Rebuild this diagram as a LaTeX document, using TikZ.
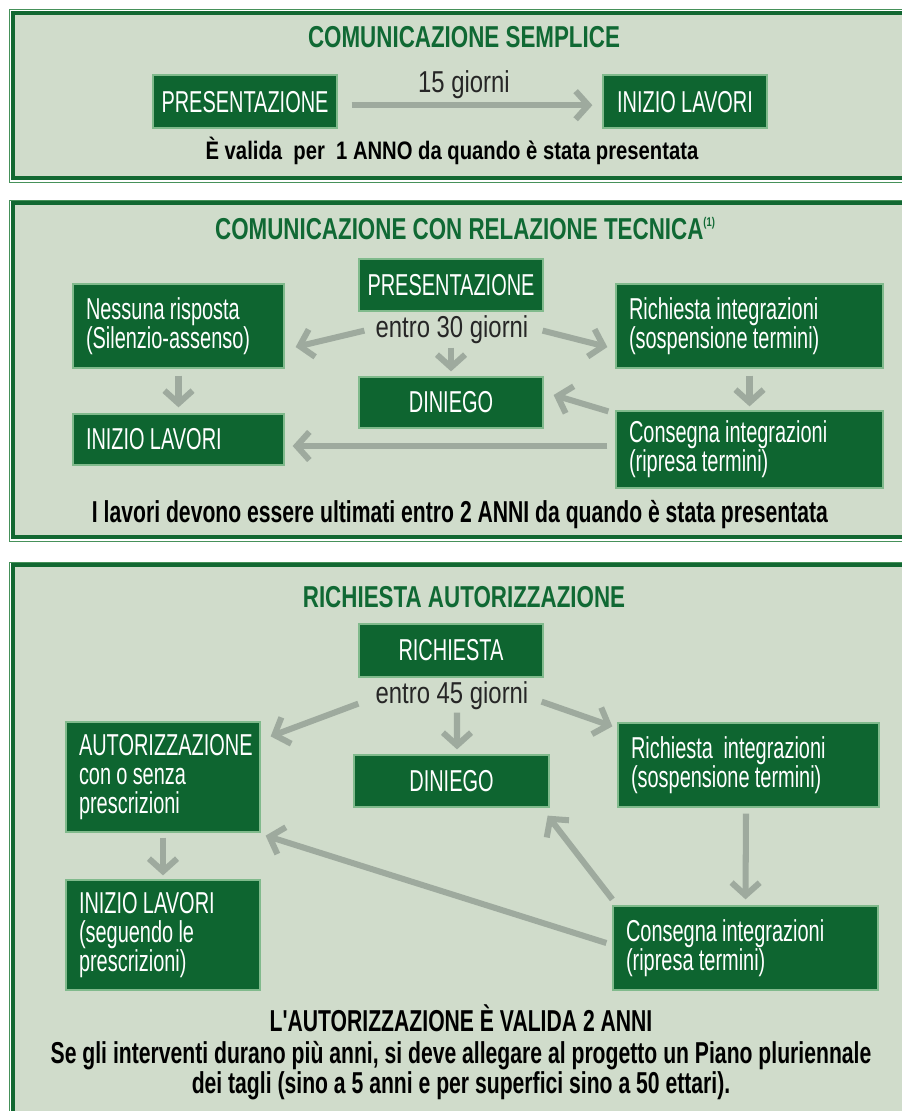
\documentclass[tikz,border=0pt]{standalone}
\usepackage{fontspec}
\setmainfont{Liberation Sans}[FakeStretch=0.66, WordSpace=0.95]
\newfontfamily\headfont{Liberation Sans}[FakeStretch=0.74]
\newfontfamily\notafont{Liberation Sans}[FakeStretch=0.70]
\newfontfamily\validafont{Liberation Sans}[FakeStretch=0.80]
\newfontfamily\tempifont{Liberation Sans}[FakeStretch=0.79]
\usepackage{tikz}
\usetikzlibrary{arrows.meta}
\definecolor{sfondo}{RGB}{208,220,203}
\definecolor{verdebox}{RGB}{14,101,48}
\definecolor{bordobox}{RGB}{128,186,140}
\definecolor{cornice}{RGB}{18,104,50}
\definecolor{cornicefine}{RGB}{70,145,90}
\definecolor{verdetitolo}{RGB}{16,105,52}
\definecolor{grigio}{RGB}{158,170,158}
\newcommand{\boxsize}{\fontsize{21.5}{20.8}\selectfont}
\newcommand{\headsize}{\headfont\bfseries\fontsize{21.5}{22}\selectfont}
\newcommand{\notasize}{\notafont\bfseries\fontsize{21.5}{22}\selectfont}

\begin{document}
\begin{tikzpicture}[
	box/.style={fill=verdebox, draw=bordobox, line width=0.9pt, text=white, font=\boxsize, inner sep=0pt},
	cbox/.style={box, minimum width=#1},
	lbox/.style={box, align=flush left, text width=#1, inner xsep=0.325cm},
	freccia/.style={draw=grigio, line width=4.3pt, -{Straight Barb[length=9pt,width=20pt]}},
	titolo/.style={font=\headsize, text=verdetitolo, inner sep=0pt, anchor=base},
	nota/.style={font=\notasize, text=black, inner sep=0pt, anchor=base},
	tempi/.style={font=\tempifont\fontsize{21.5}{22}\selectfont, text=black!85, inner sep=0pt, anchor=base},
	pannello/.style={fill=sfondo, draw=cornice, line width=2.2pt},
	filo/.style={draw=cornicefine, line width=0.7pt}
	]
		\useasboundingbox (0,0) rectangle (22.55,-27.775);
		\clip (0,0) rectangle (22.55,-27.775);
		
		\draw[pannello] (0.325,-0.325) rectangle (23,-4.45);
		\draw[filo] (0.225,-0.225) rectangle (23.2,-4.55);
		\node[titolo] (tit1) at (11.6,-1.2) {COMUNICAZIONE SEMPLICE};
		\node[cbox=4.6cm, minimum height=1.325cm] (pres1) at (6.125,-2.54) {PRESENTAZIONE};
		\node[cbox=4.1cm, minimum height=1.325cm] (ini1) at (17.125,-2.54) {INIZIO LAVORI};
		\node[tempi] (gg1) at (11.6,-2.325) {15 giorni};
		\node[nota, font=\validafont\bfseries\fontsize{18}{20}\selectfont] (val1) at (11.3,-4.0) {È valida~ per~ 1 ANNO da quando è stata presentata};
		\draw[freccia] ([shift={(0.35,-0.09)}]pres1.east) -- ([shift={(-0.25,-0.09)}]ini1.west);
		
		\draw[pannello] (0.325,-5.075) rectangle (23,-13.425);
		\draw[filo] (0.225,-5.0) rectangle (23.2,-13.525);
		\node[titolo] (tit2) at (11.625,-5.975) {COMUNICAZIONE CON RELAZIONE TECNICA\raisebox{0.8ex}{\fontsize{9}{9}\selectfont(1)}};
		\node[cbox=4.6cm, minimum height=1.3cm] (pres2) at (11.275,-7.125) {PRESENTAZIONE};
		\node[tempi] (entro2) at (11.3,-8.425) {entro 30 giorni};
		\node[lbox=4.625cm, minimum height=2.1cm] (nessuna) at (4.4625,-8.15) {Nessuna risposta\\(Silenzio-assenso)};
		\node[lbox=6.025cm, minimum height=2.1cm] (rich2) at (18.7375,-8.15) {Richiesta integrazioni\\(sospensione termini)};
		\node[cbox=4.6cm, minimum height=1.275cm] (din2) at (11.275,-10.0625) {DINIEGO};
		\node[lbox=6.025cm, minimum height=1.925cm] (cons2) at (18.7375,-11.2375) {Consegna integrazioni\\(ripresa termini)};
		\node[lbox=4.625cm, minimum height=1.275cm] (ini2) at (4.4625,-10.9875) {INIZIO LAVORI};
		\node[nota] (val2) at (11.5,-13.05) {I lavori devono essere ultimati entro 2 ANNI da quando è stata presentata};
		\draw[freccia] ([shift={(0.15,-0.475)}]pres2.south west) -- ([shift={(0.275,-0.525)}]nessuna.east);
		\draw[freccia] ([shift={(-0.025,-0.475)}]pres2.south east) -- ([shift={(-0.2,-0.525)}]rich2.west);
		\draw[freccia] ([shift={(0,-0.9)}]pres2.south) -- ([shift={(0,0.125)}]din2.north);
		\draw[freccia] ([shift={(0,-0.175)}]nessuna.south) -- ([shift={(0,0.15)}]ini2.north);
		\draw[freccia] ([shift={(0,-0.175)}]rich2.south) -- ([shift={(0,0.1)}]cons2.north);
		\draw[freccia] ([shift={(-0.175,-0.025)}]cons2.north west) -- ([shift={(0.25,0.1875)}]din2.east);
		\draw[freccia] ([shift={(-0.2,0.0875)}]cons2.west) -- ([shift={(0.2,-0.1625)}]ini2.east);
		
		\draw[pannello] (0.325,-14.125) rectangle (23,-28.5);
		\draw[filo] (0.225,-14.05) rectangle (23.2,-28.6);
		\node[titolo] (tit3) at (11.6,-15.175) {RICHIESTA AUTORIZZAZIONE};
		\node[cbox=4.6cm, minimum height=1.325cm] (rich3) at (11.275,-16.2625) {RICHIESTA};
		\node[tempi] (entro3) at (11.3,-17.575) {entro 45 giorni};
		\node[lbox=4.2cm, minimum height=2.75cm] (aut) at (4.075,-19.425) {AUTORIZZAZIONE\\con o senza\\prescrizioni};
		\node[cbox=4.875cm, minimum height=1.3cm] (din3) at (11.2875,-19.525) {DINIEGO};
		\node[lbox=5.875cm, minimum height=2.1cm] (int3) at (18.7125,-19.125) {Richiesta\ \ integrazioni\\(sospensione termini)};
		\node[lbox=5.975cm, minimum height=2.1cm] (cons3) at (18.6375,-23.7) {Consegna integrazioni\\(ripresa termini)};
		\node[lbox=4.2cm, minimum height=2.75cm] (ini3) at (4.075,-23.375) {INIZIO LAVORI\\(seguendo le\\prescrizioni)};
		\node[nota] (fin1) at (11.525,-25.775) {L'AUTORIZZAZIONE È VALIDA 2 ANNI};
		\node[nota] (fin2) at (11.525,-26.575) {Se gli interventi durano più anni, si deve allegare al progetto un Piano pluriennale};
		\node[nota] (fin3) at (11.525,-27.325) {dei tagli (sino a 5 anni e per superfici sino a 50 ettari).};
		\draw[freccia] ([shift={(0,-0.65)}]rich3.south west) -- ([shift={(0.25,-0.375)}]aut.north east);
		\draw[freccia] ([shift={(-0.05,-0.6)}]rich3.south east) -- ([shift={(-0.125,-0.1)}]int3.north west);
		\draw[freccia] ([shift={(0.15,-0.875)}]rich3.south) -- ([shift={(0.1375,0.125)}]din3.north);
		\draw[freccia] ([shift={(-0.0625,-0.15)}]int3.south) -- ([shift={(0,0.15)}]cons3.north);
		\draw[freccia] ([shift={(0,0.15)}]cons3.north west) -- ([shift={(-0.05,-0.2)}]din3.south east);
		\draw[freccia] ([shift={(-0.15,0.125)}]cons3.west) -- ([shift={(0.125,-0.075)}]aut.south east);
		\draw[freccia] ([shift={(0,-0.125)}]aut.south) -- ([shift={(0,0.1)}]ini3.north);
\end{tikzpicture}
\end{document}
